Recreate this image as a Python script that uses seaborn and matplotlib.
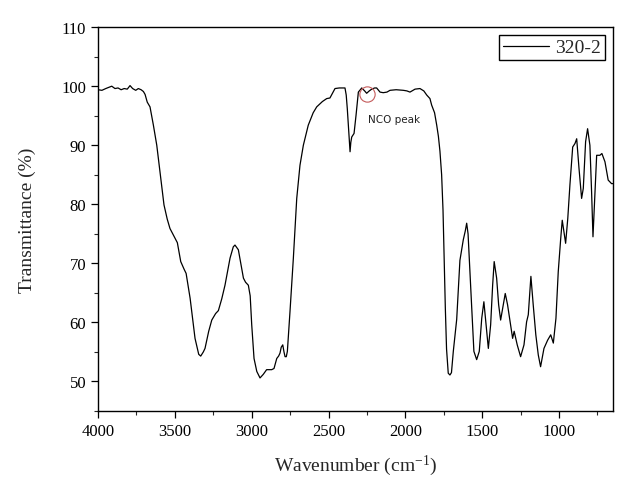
import matplotlib
matplotlib.use("Agg")
import matplotlib.pyplot as plt
import seaborn as sns
import pandas as pd
from matplotlib.ticker import MultipleLocator

wavenumber = [4000, 3975, 3950, 3911, 3890, 3870, 3850, 3830, 3810, 3792, 3775, 3755, 3738, 3720, 3705,
              3694, 3680, 3662, 3640, 3618, 3592, 3571, 3550, 3532, 3500, 3484, 3462, 3440, 3427, 3401,
              3369, 3345, 3332, 3315, 3304, 3280, 3260, 3235, 3217, 3195, 3174, 3141, 3120, 3109, 3087,
              3054, 3040, 3022, 3010, 3000, 2985, 2967, 2946, 2925, 2903, 2870, 2855, 2837, 2825, 2816,
              2808, 2798, 2790, 2783, 2775, 2768, 2751, 2729, 2707, 2686, 2664, 2632, 2600, 2577, 2540,
              2512, 2491, 2470, 2458, 2430, 2393, 2385, 2378, 2368, 2360, 2355, 2349, 2334, 2321, 2306,
              2284, 2265, 2252, 2235, 2219, 2200, 2187, 2165, 2144, 2120, 2100, 2060, 2013, 1990, 1970,
              1950, 1937, 1905, 1880, 1861, 1840, 1829, 1810, 1796, 1785, 1775, 1764, 1755, 1748, 1740,
              1732, 1721, 1710, 1700, 1688, 1666, 1645, 1623, 1610, 1601, 1592, 1584, 1568, 1554, 1536,
              1519, 1503, 1489, 1475, 1460, 1445, 1432, 1422, 1406, 1393, 1380, 1363, 1350, 1335, 1315,
              1302, 1292, 1272, 1250, 1228, 1211, 1200, 1183, 1168, 1151, 1135, 1120, 1098, 1074, 1054,
              1037, 1020, 1005, 989, 979, 968, 957, 943, 929, 911, 896, 885, 870, 853, 842,
              827, 814, 799, 788, 779, 768, 755, 734, 721, 701, 680, 658, 650]
transmittance = [99.4, 99.3, 99.6, 100.0, 99.6, 99.7, 99.4, 99.6, 99.5, 100.1, 99.6, 99.3, 99.6, 99.4, 99.1,
                 98.6, 97.3, 96.5, 93.4, 90.0, 84.4, 79.9, 77.5, 75.9, 74.3, 73.5, 70.3, 69.0, 68.3, 64.1,
                 57.3, 54.6, 54.3, 55.0, 55.6, 58.5, 60.4, 61.5, 62.0, 64.0, 66.3, 70.9, 72.8, 73.1, 72.3,
                 67.5, 66.8, 66.3, 64.5, 59.6, 53.9, 51.7, 50.6, 51.2, 52.0, 52.0, 52.2, 53.9, 54.3, 54.8,
                 55.8, 56.2, 55.0, 54.2, 54.2, 55.1, 61.8, 70.9, 81.0, 86.6, 90.0, 93.4, 95.5, 96.5, 97.4,
                 97.9, 98.0, 99.0, 99.6, 99.7, 99.7, 98.5, 96.2, 92.0, 88.9, 90.5, 91.4, 92.0, 95.1, 99.0,
                 99.7, 99.2, 98.8, 99.2, 99.5, 99.7, 99.7, 99.0, 98.9, 99.0, 99.3, 99.4, 99.3, 99.2, 99.0,
                 99.3, 99.5, 99.6, 99.2, 98.5, 97.9, 96.8, 95.5, 93.4, 91.5, 89.0, 85.0, 79.0, 71.0, 62.5,
                 55.5, 51.4, 51.1, 51.5, 55.1, 60.5, 70.5, 74.0, 75.5, 76.8, 75.0, 70.9, 62.4, 55.1, 53.7,
                 55.1, 60.7, 63.5, 59.6, 55.6, 59.6, 66.3, 70.3, 67.5, 63.0, 60.4, 63.0, 64.9, 63.0, 59.6,
                 57.3, 58.5, 56.2, 54.2, 56.2, 60.1, 61.3, 67.8, 63.0, 57.9, 54.5, 52.5, 55.6, 57.0, 57.9,
                 56.5, 60.7, 68.6, 74.2, 77.3, 75.4, 73.4, 77.6, 83.3, 89.7, 90.3, 91.1, 86.1, 81.0, 82.7,
                 90.6, 92.8, 90.0, 82.1, 74.5, 81.0, 88.3, 88.3, 88.6, 87.2, 84.1, 83.5, 83.5]
series_name = "320-2"
nco_wavenumber = [2250]
nco_transmittance = [98.7]
nco_label = "NCO peak"
nco_label_pos = (2240, 94.4)
x_ticks = [4000, 3500, 3000, 2500, 2000, 1500, 1000]
y_ticks = [50, 60, 70, 80, 90, 100, 110]

sns.set_style("ticks")
plt.rcParams["font.family"] = ["Liberation Serif", "DejaVu Serif"]
plt.rcParams["mathtext.fontset"] = "custom"
plt.rcParams["mathtext.rm"] = "Liberation Serif"
plt.rcParams["mathtext.it"] = "Liberation Serif:italic"

df = pd.DataFrame({"Wavenumber": wavenumber, "Transmittance": transmittance, "Sample": series_name})

fig = plt.figure(figsize=(6.41, 4.85), dpi=100)
ax = fig.add_axes([0.153, 0.1505, 0.803, 0.7915])

sns.lineplot(data=df, x="Wavenumber", y="Transmittance", hue="Sample", palette=["black"],
             estimator=None, sort=False, linewidth=0.9, ax=ax)

ax.plot(nco_wavenumber, nco_transmittance, marker="o", linestyle="none", markersize=11,
        markerfacecolor="none", markeredgecolor="#c45a5a", markeredgewidth=0.8)
ax.text(nco_label_pos[0], nco_label_pos[1], nco_label, fontsize=7.5, family=["DejaVu Sans"],
        va="center", ha="left", color="#222222")

ax.set_xlim(4000, 650)
ax.set_ylim(45, 110)
ax.set_xticks(x_ticks)
ax.set_yticks(y_ticks)
ax.xaxis.set_minor_locator(MultipleLocator(250))
ax.yaxis.set_minor_locator(MultipleLocator(5))
ax.tick_params(axis="both", which="major", direction="out", length=5, width=0.9,
               labelsize=12, colors="black", top=False, right=False)
ax.tick_params(axis="both", which="minor", direction="out", length=3, width=0.8,
               top=False, right=False)
for s in ax.spines.values():
    s.set_visible(True)
    s.set_color("black")
    s.set_linewidth(1.0)

ax.set_xlabel(r"Wavenumber (cm$^{\mathrm{-1}}$)", fontsize=14, labelpad=10)
ax.set_ylabel("Transmittance (%)", fontsize=14, labelpad=18)

leg = ax.legend(loc="upper right", frameon=True, fancybox=False, edgecolor="black",
                fontsize=14, handlelength=2.4, borderaxespad=0.4, framealpha=1,
                borderpad=0.2, handletextpad=0.3)
leg.get_frame().set_linewidth(1.0)
leg.set_title(None)

fig.savefig("out.png", dpi=100)
